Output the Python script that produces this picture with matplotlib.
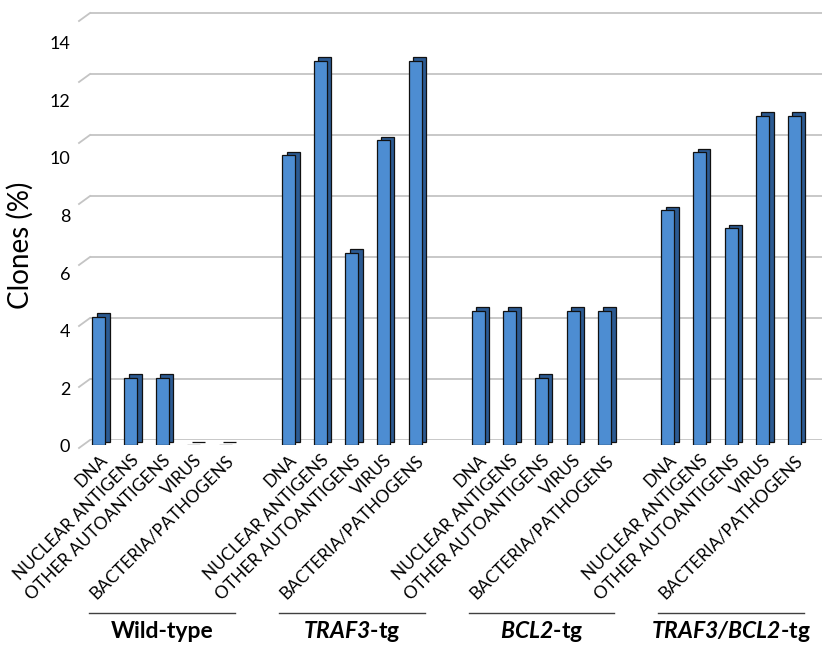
import numpy as np
import matplotlib
matplotlib.use('Agg')
import matplotlib.pyplot as plt
from matplotlib import transforms
from matplotlib.lines import Line2D

plt.rcParams['font.family'] = ['Lato', 'DejaVu Sans']
plt.rcParams['mathtext.fontset'] = 'custom'
plt.rcParams['mathtext.it'] = 'Lato:italic:bold'
plt.rcParams['mathtext.rm'] = 'Lato:italic:bold'

# data
categories = ['DNA', 'NUCLEAR ANTIGENS', 'OTHER AUTOANTIGENS', 'VIRUS', 'BACTERIA/PATHOGENS']
groups = ['Wild-type', r'$\mathit{TRAF3}$-tg', r'$\mathit{BCL2}$-tg', r'$\mathit{TRAF3/BCL2}$-tg']
wild_type = [4.2, 2.2, 2.2, 0, 0]
traf3 = [9.5, 12.6, 6.3, 10.0, 12.6]
bcl2 = [4.4, 4.4, 2.2, 4.4, 4.4]
traf3_bcl2 = [7.7, 9.6, 7.1, 10.8, 10.8]
yticks = [0, 2, 4, 6, 8, 10, 12, 14]

series = [wild_type, traf3, bcl2, traf3_bcl2]
xpos = []
vals = []
labels = []
for g, s in enumerate(series):
    for j, v in enumerate(s):
        xpos.append(g * 6 + j)
        vals.append(v)
        labels.append(categories[j])
xpos = np.array(xpos)

W, H = 829, 650
fig = plt.figure(figsize=(W / 100, H / 100), dpi=100)

def box(l, b, r, t):
    return [l / W, 1 - b / H, (r - l) / W, (b - t) / H]

ax_lab = fig.add_axes(box(80, 455, 812, 15), zorder=0)
ax_grid = fig.add_axes(box(90, 440, 822, 10), zorder=1)
ax = fig.add_axes(box(80, 445, 812, 15), zorder=2)
for a in (ax_lab, ax_grid, ax):
    a.patch.set_visible(False)
    for sp in a.spines.values():
        sp.set_visible(False)

ytop = 430 / 30.5
xl = (-0.6, 22.56)

# back wall gridlines
ax_grid.set_xlim(xl)
ax_grid.set_ylim(0, ytop)
ax_grid.set_yticks(yticks)
ax_grid.set_xticks([])
ax_grid.tick_params(left=False, labelleft=False)
ax_grid.grid(axis='y', color='#c4c4c4', lw=1.3)

# small diagonal where the wall meets the side
tr = transforms.blended_transform_factory(ax_grid.transAxes, ax_grid.transData)
for v in yticks:
    x0, y0 = tr.transform((0, v))
    fig.add_artist(Line2D([x0 - 11, x0], [y0 - 8, y0], color='#c4c4c4', lw=1.3,
                          transform=transforms.IdentityTransform()))

# y labels (front plane)
ax_lab.set_ylim((446 - 455) / 28.8, (446 - 15) / 28.8)
ax_lab.set_yticks(yticks)
ax_lab.set_xticks([])
ax_lab.tick_params(axis='y', length=0, pad=7, labelsize=13)

# bars with a fake depth
off = transforms.offset_copy(ax.transData, fig=fig, x=4.5, y=3.5, units='dots')
ax.bar(xpos, vals, width=0.41, color='#2b5a92', edgecolor='#111111', lw=0.9,
       transform=off, zorder=2)
ax.bar(xpos, vals, width=0.41, color='#4d8dd2', edgecolor='#111111', lw=0.9, zorder=3)

ax.set_xlim(xl)
ax.set_ylim(0, ytop)
ax.set_yticks([])
ax.set_xticks(xpos)
ax.set_xticklabels(labels, rotation=45, ha='right', va='top', rotation_mode='anchor',
                   fontsize=12.5)
ax.tick_params(axis='x', length=0, pad=5)

# group labels
tg = transforms.blended_transform_factory(ax.transData, fig.transFigure)
for g, name in enumerate(groups):
    c = g * 6 + 2
    ax.plot([c - 2.3, c + 2.3], [1 - 613 / H, 1 - 613 / H], transform=tg, clip_on=False,
            color='#404040', lw=1)
    ax.text(c, 1 - 632 / H, name, transform=tg, ha='center', va='center',
            fontsize=16.5, fontweight='bold')
ax.set_xlim(xl)

fig.text(20 / W, 1 - 245 / H, 'Clones (%)', rotation=90, ha='center', va='center',
         fontsize=20)

fig.savefig('out.png', dpi=100, facecolor='white')
